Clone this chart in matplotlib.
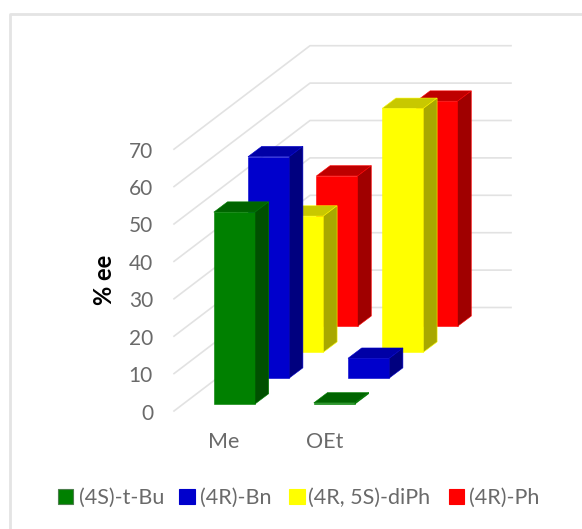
import matplotlib
matplotlib.use('Agg')
import matplotlib.pyplot as plt
from matplotlib.patches import Polygon, Rectangle

categories = ['Me', 'OEt']
series = ['(4S)-t-Bu', '(4R)-Bn', '(4R, 5S)-diPh', '(4R)-Ph']
values_tbu = [51.3, 0.3]
values_bn = [59.2, 5.3]
values_diph = [36.4, 65.2]
values_ph = [40.2, 60.2]
all_values = [values_tbu, values_bn, values_diph, values_ph]
yticks = [0, 10, 20, 30, 40, 50, 60, 70]

front = ['#008000', '#0000CC', '#FFFF00', '#FF0000']
top = ['#006400', '#0000A6', '#C8C800', '#BE0000']
side = ['#005000', '#00007F', '#A8A800', '#A00000']

W, H = 582, 529
PX = 3.74          # pixels per % ee
y0 = 411           # pixel row of value 0 on the front edge
text_col = '#6A6A6A'

plt.rcParams['font.family'] = ['Lato', 'DejaVu Sans']
fig = plt.figure(figsize=(W / 100, H / 100), dpi=100)
ax = fig.add_axes([0, 0, 1, 1])
ax.set_xlim(0, W)
ax.set_ylim((y0 - H) / PX, y0 / PX)
ax.axis('off')


def py(p):
    return (y0 - p) / PX


# chart frame, only left and top show in the crop
ax.plot([10, 10, W], [py(H), py(14), py(14)], color='#E4E4E4', lw=2)

# walls
dep_x, dep_y = 136, 103.5 / PX
for t in yticks:
    ax.plot([174, 174 + dep_x, 511], [t, t + dep_y, t + dep_y], color='#E2E2E2', lw=1.2, zorder=1)
    ax.text(153, t - 2.5 / PX, str(t), ha='right', va='center', fontsize=15, color=text_col)

ax.text(104, py(280), '% ee', rotation=90, ha='center', va='center', fontsize=17,
        fontweight='bold', color='black')

# bars, back row first
bar_w = 41.2
d_x, d_y = 13.7, 10.3 / PX
row_x = 34.2
row_y = 25.9 / PX
cat_x = 213.8
cat_step = 100
base0 = 0.0 + (411 - 404) / PX
for s in range(3, -1, -1):
    for c in range(len(categories)):
        v = all_values[s][c]
        xl = cat_x + c * cat_step + s * row_x
        xr = xl + bar_w
        yb = base0 + s * row_y
        yt = yb + v
        z = 10 + (3 - s) * 10 + c
        ec = front[s]
        ax.add_patch(Polygon([(xl, yb), (xr, yb), (xr, yt), (xl, yt)], fc=front[s], ec=ec, lw=0.4, zorder=z))
        ax.add_patch(Polygon([(xl, yt), (xr, yt), (xr + d_x, yt + d_y), (xl + d_x, yt + d_y)],
                             fc=top[s], ec=ec, lw=0.4, zorder=z))
        ax.add_patch(Polygon([(xr, yb), (xr + d_x, yb + d_y), (xr + d_x, yt + d_y), (xr, yt)],
                             fc=side[s], ec=ec, lw=0.4, zorder=z))

# category labels
ax.text(224, py(442), categories[0], ha='center', va='center', fontsize=15.5, color=text_col)
ax.text(325, py(442), categories[1], ha='center', va='center', fontsize=15.5, color=text_col)

# legend
leg_sq = [57.5, 179, 289, 448.5]
leg_tx = [78.5, 200, 308, 469]
for i in range(4):
    ax.add_patch(Rectangle((leg_sq[i], py(504)), 15.5, 15 / PX, fc=front[i], ec='#4D7F4D' if i == 0 else front[i], lw=0.8, zorder=60))
    ax.text(leg_tx[i], py(498), series[i], ha='left', va='center', fontsize=15.5, color=text_col, zorder=60)

fig.savefig('out.png', dpi=100)
